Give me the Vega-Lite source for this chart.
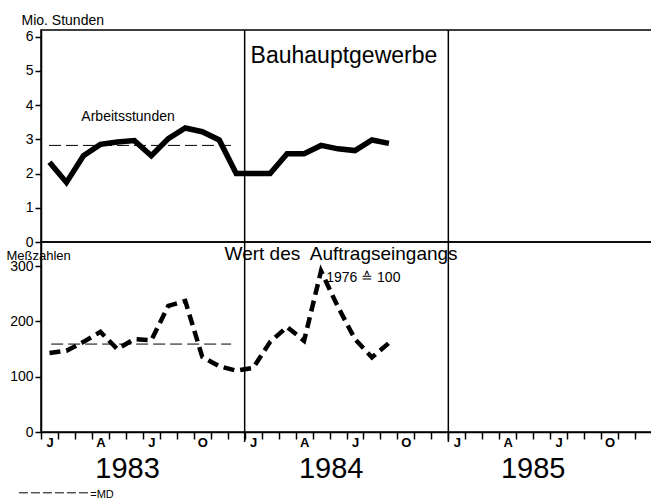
{
  "$schema": "https://vega.github.io/schema/vega-lite/v6.json",
  "background": "white",
  "padding": {"left": 5, "top": 12, "right": 0, "bottom": 0},
  "bounds": "flush",
  "spacing": 0,
  "config": {
    "font": "Liberation Sans",
    "view": {"stroke": "black", "strokeWidth": 1.5},
    "axis": {"domainColor": "black", "tickColor": "black", "labelColor": "black", "titleColor": "black", "domainWidth": 1.5, "tickWidth": 1.5, "grid": false, "titleFontWeight": "normal"}
  },
  "datasets": {
    "stunden": [
      {"monat": 1, "wert": 2.33}, {"monat": 2, "wert": 1.74}, {"monat": 3, "wert": 2.52}, {"monat": 4, "wert": 2.85},
      {"monat": 5, "wert": 2.92}, {"monat": 6, "wert": 2.96}, {"monat": 7, "wert": 2.52}, {"monat": 8, "wert": 3.02},
      {"monat": 9, "wert": 3.33}, {"monat": 10, "wert": 3.22}, {"monat": 11, "wert": 2.98}, {"monat": 12, "wert": 2.0},
      {"monat": 13, "wert": 2.0}, {"monat": 14, "wert": 2.0}, {"monat": 15, "wert": 2.58}, {"monat": 16, "wert": 2.58},
      {"monat": 17, "wert": 2.82}, {"monat": 18, "wert": 2.72}, {"monat": 19, "wert": 2.67}, {"monat": 20, "wert": 2.98},
      {"monat": 21, "wert": 2.88}
    ],
    "auftrag": [
      {"monat": 1, "wert": 143}, {"monat": 2, "wert": 147}, {"monat": 3, "wert": 163}, {"monat": 4, "wert": 181},
      {"monat": 5, "wert": 150}, {"monat": 6, "wert": 168}, {"monat": 7, "wert": 166}, {"monat": 8, "wert": 228},
      {"monat": 9, "wert": 237}, {"monat": 10, "wert": 136}, {"monat": 11, "wert": 119}, {"monat": 12, "wert": 111},
      {"monat": 13, "wert": 116}, {"monat": 14, "wert": 163}, {"monat": 15, "wert": 190}, {"monat": 16, "wert": 165},
      {"monat": 17, "wert": 291}, {"monat": 18, "wert": 226}, {"monat": 19, "wert": 168}, {"monat": 20, "wert": 135},
      {"monat": 21, "wert": 161}
    ],
    "grenzen": [{"jahresgrenze": 12.5}, {"jahresgrenze": 24.5}]
  },
  "vconcat": [
    {
      "width": 611,
      "height": 212,
      "layer": [
        {
          "data": {"name": "stunden"},
          "mark": {"type": "line", "color": "black", "strokeWidth": 5.5, "strokeJoin": "miter"},
          "encoding": {
            "x": {"field": "monat", "type": "quantitative", "scale": {"domain": [0.5, 36.5], "nice": false, "zero": false}, "axis": null},
            "y": {"field": "wert", "type": "quantitative", "scale": {"domain": [0, 6.19], "nice": false},
              "axis": {"values": [0, 1, 2, 3, 4, 5, 6], "tickSize": 6, "labelPadding": 2, "labelFontSize": 14, "labelOverlap": false, "title": "Mio. Stunden", "titleAngle": 0, "titleAlign": "left", "titleBaseline": "alphabetic", "titleX": -20, "titleY": -6, "titleFontSize": 14}}
          }
        },
        {
          "data": {"values": [{}]},
          "mark": {"type": "rule", "color": "black", "strokeWidth": 1, "strokeDash": [12, 5]},
          "encoding": {"x": {"datum": 0.97, "axis": null}, "x2": {"datum": 11.8},
            "y": {"datum": 2.82, "axis": {"values": [0, 1, 2, 3, 4, 5, 6], "tickSize": 6, "labelPadding": 2, "labelFontSize": 14, "labelOverlap": false, "title": "Mio. Stunden", "titleAngle": 0, "titleAlign": "left", "titleBaseline": "alphabetic", "titleX": -20, "titleY": -6, "titleFontSize": 14}}}
        },
        {
          "data": {"name": "grenzen"},
          "mark": {"type": "rule", "color": "black", "strokeWidth": 1.5},
          "encoding": {"x": {"field": "jahresgrenze", "type": "quantitative", "axis": null}}
        },
        {
          "data": {"values": [{}]},
          "mark": {"type": "text", "text": "Arbeitsstunden", "fontSize": 14, "align": "center", "baseline": "alphabetic", "color": "black"},
          "encoding": {"x": {"datum": 5.63, "axis": null},
            "y": {"datum": 3.53, "axis": {"values": [0, 1, 2, 3, 4, 5, 6], "tickSize": 6, "labelPadding": 2, "labelFontSize": 14, "labelOverlap": false, "title": "Mio. Stunden", "titleAngle": 0, "titleAlign": "left", "titleBaseline": "alphabetic", "titleX": -20, "titleY": -6, "titleFontSize": 14}}}
        },
        {
          "data": {"values": [{}]},
          "mark": {"type": "text", "text": "Bauhauptgewerbe", "fontSize": 23, "align": "center", "baseline": "alphabetic", "color": "black"},
          "encoding": {"x": {"datum": 18.35, "axis": null},
            "y": {"datum": 5.23, "axis": {"values": [0, 1, 2, 3, 4, 5, 6], "tickSize": 6, "labelPadding": 2, "labelFontSize": 14, "labelOverlap": false, "title": "Mio. Stunden", "titleAngle": 0, "titleAlign": "left", "titleBaseline": "alphabetic", "titleX": -20, "titleY": -6, "titleFontSize": 14}}}
        }
      ]
    },
    {
      "width": 611,
      "height": 190,
      "layer": [
        {
          "data": {"name": "auftrag"},
          "mark": {"type": "line", "color": "black", "strokeWidth": 4.5, "strokeDash": [11, 6]},
          "encoding": {
            "x": {"field": "monat", "type": "quantitative", "scale": {"domain": [0.5, 36.5], "nice": false, "zero": false},
              "axis": {"values": [0.5,1.5,2.5,3.5,4.5,5.5,6.5,7.5,8.5,9.5,10.5,11.5,12.5,13.5,14.5,15.5,16.5,17.5,18.5,19.5,20.5,21.5,22.5,23.5,24.5,25.5,26.5,27.5,28.5,29.5,30.5,31.5,32.5,33.5,34.5,35.5,36.5],
                "labelExpr": "datum.value > 36 ? '' : (datum.value - 0.5) % 12 == 0 ? 'J' : (datum.value - 0.5) % 12 == 3 ? 'A' : (datum.value - 0.5) % 12 == 6 ? 'J' : (datum.value - 0.5) % 12 == 9 ? 'O' : ''",
                "labelOffset": 8.5, "labelFlush": false, "labelOverlap": false, "labelBound": false,
                "tickSize": 7, "labelPadding": -3, "labelBaseline": "top", "labelFontSize": 13, "labelFontWeight": "bold", "title": null}},
            "y": {"field": "wert", "type": "quantitative", "scale": {"domain": [0, 343.6], "nice": false},
              "axis": {"values": [0, 100, 200, 300], "tickSize": 6, "labelPadding": 2, "labelFontSize": 14, "labelOverlap": false, "title": "Meßzahlen", "titleAngle": 0, "titleAlign": "left", "titleBaseline": "alphabetic", "titleX": -35, "titleY": 17.5, "titleFontSize": 13}}
          }
        },
        {
          "data": {"values": [{}]},
          "mark": {"type": "rule", "color": "black", "strokeWidth": 1, "strokeDash": [12, 5]},
          "encoding": {
            "x": {"datum": 1.1, "axis": {"values": [0.5,1.5,2.5,3.5,4.5,5.5,6.5,7.5,8.5,9.5,10.5,11.5,12.5,13.5,14.5,15.5,16.5,17.5,18.5,19.5,20.5,21.5,22.5,23.5,24.5,25.5,26.5,27.5,28.5,29.5,30.5,31.5,32.5,33.5,34.5,35.5,36.5],
                "labelExpr": "datum.value > 36 ? '' : (datum.value - 0.5) % 12 == 0 ? 'J' : (datum.value - 0.5) % 12 == 3 ? 'A' : (datum.value - 0.5) % 12 == 6 ? 'J' : (datum.value - 0.5) % 12 == 9 ? 'O' : ''",
                "labelOffset": 8.5, "labelFlush": false, "labelOverlap": false, "labelBound": false,
                "tickSize": 7, "labelPadding": -3, "labelBaseline": "top", "labelFontSize": 13, "labelFontWeight": "bold", "title": null}},
            "x2": {"datum": 11.7},
            "y": {"datum": 159, "axis": {"values": [0, 100, 200, 300], "tickSize": 6, "labelPadding": 2, "labelFontSize": 14, "labelOverlap": false, "title": "Meßzahlen", "titleAngle": 0, "titleAlign": "left", "titleBaseline": "alphabetic", "titleX": -35, "titleY": 17.5, "titleFontSize": 13}}
          }
        },
        {
          "data": {"name": "grenzen"},
          "mark": {"type": "rule", "color": "black", "strokeWidth": 1.5},
          "encoding": {
            "x": {"field": "jahresgrenze", "type": "quantitative", "axis": {"values": [0.5,1.5,2.5,3.5,4.5,5.5,6.5,7.5,8.5,9.5,10.5,11.5,12.5,13.5,14.5,15.5,16.5,17.5,18.5,19.5,20.5,21.5,22.5,23.5,24.5,25.5,26.5,27.5,28.5,29.5,30.5,31.5,32.5,33.5,34.5,35.5,36.5],
                "labelExpr": "datum.value > 36 ? '' : (datum.value - 0.5) % 12 == 0 ? 'J' : (datum.value - 0.5) % 12 == 3 ? 'A' : (datum.value - 0.5) % 12 == 6 ? 'J' : (datum.value - 0.5) % 12 == 9 ? 'O' : ''",
                "labelOffset": 8.5, "labelFlush": false, "labelOverlap": false, "labelBound": false,
                "tickSize": 7, "labelPadding": -3, "labelBaseline": "top", "labelFontSize": 13, "labelFontWeight": "bold", "title": null}},
            "y": {"datum": -18, "axis": {"values": [0, 100, 200, 300], "tickSize": 6, "labelPadding": 2, "labelFontSize": 14, "labelOverlap": false, "title": "Meßzahlen", "titleAngle": 0, "titleAlign": "left", "titleBaseline": "alphabetic", "titleX": -35, "titleY": 17.5, "titleFontSize": 13}},
            "y2": {"datum": 343.6}
          }
        },
        {
          "data": {"values": [{}]},
          "mark": {"type": "text", "text": "Wert des\u00a0 Auftragseingangs", "fontSize": 19, "align": "center", "baseline": "alphabetic", "color": "black"},
          "encoding": {
            "x": {"datum": 18.18, "axis": {"values": [0.5,1.5,2.5,3.5,4.5,5.5,6.5,7.5,8.5,9.5,10.5,11.5,12.5,13.5,14.5,15.5,16.5,17.5,18.5,19.5,20.5,21.5,22.5,23.5,24.5,25.5,26.5,27.5,28.5,29.5,30.5,31.5,32.5,33.5,34.5,35.5,36.5],
                "labelExpr": "datum.value > 36 ? '' : (datum.value - 0.5) % 12 == 0 ? 'J' : (datum.value - 0.5) % 12 == 3 ? 'A' : (datum.value - 0.5) % 12 == 6 ? 'J' : (datum.value - 0.5) % 12 == 9 ? 'O' : ''",
                "labelOffset": 8.5, "labelFlush": false, "labelOverlap": false, "labelBound": false,
                "tickSize": 7, "labelPadding": -3, "labelBaseline": "top", "labelFontSize": 13, "labelFontWeight": "bold", "title": null}},
            "y": {"datum": 311, "axis": {"values": [0, 100, 200, 300], "tickSize": 6, "labelPadding": 2, "labelFontSize": 14, "labelOverlap": false, "title": "Meßzahlen", "titleAngle": 0, "titleAlign": "left", "titleBaseline": "alphabetic", "titleX": -35, "titleY": 17.5, "titleFontSize": 13}}
          }
        },
        {
          "data": {"values": [{}]},
          "mark": {"type": "text", "text": "1976 ≙ 100", "fontSize": 14, "align": "left", "baseline": "alphabetic", "color": "black"},
          "encoding": {
            "x": {"datum": 17.3, "axis": {"values": [0.5,1.5,2.5,3.5,4.5,5.5,6.5,7.5,8.5,9.5,10.5,11.5,12.5,13.5,14.5,15.5,16.5,17.5,18.5,19.5,20.5,21.5,22.5,23.5,24.5,25.5,26.5,27.5,28.5,29.5,30.5,31.5,32.5,33.5,34.5,35.5,36.5],
                "labelExpr": "datum.value > 36 ? '' : (datum.value - 0.5) % 12 == 0 ? 'J' : (datum.value - 0.5) % 12 == 3 ? 'A' : (datum.value - 0.5) % 12 == 6 ? 'J' : (datum.value - 0.5) % 12 == 9 ? 'O' : ''",
                "labelOffset": 8.5, "labelFlush": false, "labelOverlap": false, "labelBound": false,
                "tickSize": 7, "labelPadding": -3, "labelBaseline": "top", "labelFontSize": 13, "labelFontWeight": "bold", "title": null}},
            "y": {"datum": 271, "axis": {"values": [0, 100, 200, 300], "tickSize": 6, "labelPadding": 2, "labelFontSize": 14, "labelOverlap": false, "title": "Meßzahlen", "titleAngle": 0, "titleAlign": "left", "titleBaseline": "alphabetic", "titleX": -35, "titleY": 17.5, "titleFontSize": 13}}
          }
        },
        {
          "data": {"values": [{"jahr": "1983", "mitte": 5.6}, {"jahr": "1984", "mitte": 17.6}, {"jahr": "1985", "mitte": 29.5}]},
          "mark": {"type": "text", "fontSize": 29, "align": "center", "baseline": "alphabetic", "color": "black"},
          "encoding": {
            "x": {"field": "mitte", "type": "quantitative", "axis": {"values": [0.5,1.5,2.5,3.5,4.5,5.5,6.5,7.5,8.5,9.5,10.5,11.5,12.5,13.5,14.5,15.5,16.5,17.5,18.5,19.5,20.5,21.5,22.5,23.5,24.5,25.5,26.5,27.5,28.5,29.5,30.5,31.5,32.5,33.5,34.5,35.5,36.5],
                "labelExpr": "datum.value > 36 ? '' : (datum.value - 0.5) % 12 == 0 ? 'J' : (datum.value - 0.5) % 12 == 3 ? 'A' : (datum.value - 0.5) % 12 == 6 ? 'J' : (datum.value - 0.5) % 12 == 9 ? 'O' : ''",
                "labelOffset": 8.5, "labelFlush": false, "labelOverlap": false, "labelBound": false,
                "tickSize": 7, "labelPadding": -3, "labelBaseline": "top", "labelFontSize": 13, "labelFontWeight": "bold", "title": null}},
            "y": {"datum": -83, "axis": {"values": [0, 100, 200, 300], "tickSize": 6, "labelPadding": 2, "labelFontSize": 14, "labelOverlap": false, "title": "Meßzahlen", "titleAngle": 0, "titleAlign": "left", "titleBaseline": "alphabetic", "titleX": -35, "titleY": 17.5, "titleFontSize": 13}},
            "text": {"field": "jahr"}
          }
        },
        {
          "data": {"values": [{}]},
          "mark": {"type": "rule", "color": "black", "strokeWidth": 1, "strokeDash": [9, 3]},
          "encoding": {
            "x": {"datum": -0.8, "axis": {"values": [0.5,1.5,2.5,3.5,4.5,5.5,6.5,7.5,8.5,9.5,10.5,11.5,12.5,13.5,14.5,15.5,16.5,17.5,18.5,19.5,20.5,21.5,22.5,23.5,24.5,25.5,26.5,27.5,28.5,29.5,30.5,31.5,32.5,33.5,34.5,35.5,36.5],
                "labelExpr": "datum.value > 36 ? '' : (datum.value - 0.5) % 12 == 0 ? 'J' : (datum.value - 0.5) % 12 == 3 ? 'A' : (datum.value - 0.5) % 12 == 6 ? 'J' : (datum.value - 0.5) % 12 == 9 ? 'O' : ''",
                "labelOffset": 8.5, "labelFlush": false, "labelOverlap": false, "labelBound": false,
                "tickSize": 7, "labelPadding": -3, "labelBaseline": "top", "labelFontSize": 13, "labelFontWeight": "bold", "title": null}},
            "x2": {"datum": 3.33},
            "y": {"datum": -110, "axis": {"values": [0, 100, 200, 300], "tickSize": 6, "labelPadding": 2, "labelFontSize": 14, "labelOverlap": false, "title": "Meßzahlen", "titleAngle": 0, "titleAlign": "left", "titleBaseline": "alphabetic", "titleX": -35, "titleY": 17.5, "titleFontSize": 13}}
          }
        },
        {
          "data": {"values": [{}]},
          "mark": {"type": "text", "text": "=MD", "fontSize": 11, "align": "left", "baseline": "alphabetic", "color": "black"},
          "encoding": {
            "x": {"datum": 3.4, "axis": {"values": [0.5,1.5,2.5,3.5,4.5,5.5,6.5,7.5,8.5,9.5,10.5,11.5,12.5,13.5,14.5,15.5,16.5,17.5,18.5,19.5,20.5,21.5,22.5,23.5,24.5,25.5,26.5,27.5,28.5,29.5,30.5,31.5,32.5,33.5,34.5,35.5,36.5],
                "labelExpr": "datum.value > 36 ? '' : (datum.value - 0.5) % 12 == 0 ? 'J' : (datum.value - 0.5) % 12 == 3 ? 'A' : (datum.value - 0.5) % 12 == 6 ? 'J' : (datum.value - 0.5) % 12 == 9 ? 'O' : ''",
                "labelOffset": 8.5, "labelFlush": false, "labelOverlap": false, "labelBound": false,
                "tickSize": 7, "labelPadding": -3, "labelBaseline": "top", "labelFontSize": 13, "labelFontWeight": "bold", "title": null}},
            "y": {"datum": -119, "axis": {"values": [0, 100, 200, 300], "tickSize": 6, "labelPadding": 2, "labelFontSize": 14, "labelOverlap": false, "title": "Meßzahlen", "titleAngle": 0, "titleAlign": "left", "titleBaseline": "alphabetic", "titleX": -35, "titleY": 17.5, "titleFontSize": 13}}
          }
        }
      ]
    }
  ]
}
